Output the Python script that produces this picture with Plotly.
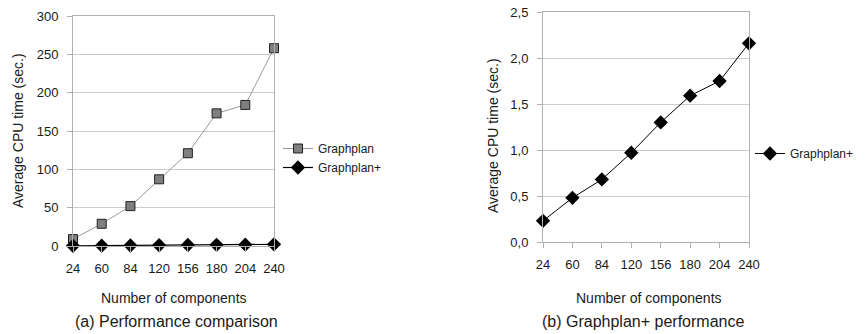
import plotly.graph_objects as go

components = ["24", "60", "84", "120", "156", "180", "204", "240"]
graphplan = [9, 29, 52, 87, 121, 173, 184, 258]
graphplan_plus = [0.23, 0.48, 0.68, 0.97, 1.30, 1.59, 1.75, 2.16]

W, H = 866, 334
FONT = "Liberation Sans, Arial, sans-serif"
GRID = "#cccccc"
AX = "#b0b0b0"
TXT = "#1a1a1a"


def px(x):
    return x / W


def py(y):
    return 1 - y / H


fig = go.Figure()

# Left chart
fig.add_trace(go.Scatter(
    x=components, y=graphplan, name="Graphplan", mode="lines+markers",
    line=dict(color="#9a9a9a", width=1),
    marker=dict(symbol="square", size=9, color="#7f7f7f", line=dict(color="#222222", width=1)),
    xaxis="x", yaxis="y", legend="legend", cliponaxis=False))
fig.add_trace(go.Scatter(
    x=components, y=graphplan_plus, name="Graphplan+", mode="lines+markers",
    line=dict(color="#000000", width=1.2),
    marker=dict(symbol="diamond", size=11, color="#000000"),
    xaxis="x", yaxis="y", legend="legend", cliponaxis=False))

# Right chart
fig.add_trace(go.Scatter(
    x=components, y=graphplan_plus, name="Graphplan+", mode="lines+markers",
    line=dict(color="#000000", width=1),
    marker=dict(symbol="diamond", size=11, color="#000000"),
    xaxis="x2", yaxis="y2", legend="legend2", cliponaxis=False))


def xax(domain, anchor):
    return dict(domain=domain, anchor=anchor, type="category", range=[0, 7],
                showgrid=False, showline=True, linecolor=AX, linewidth=1, mirror=True,
                ticks="outside", ticklen=5, tickcolor=AX, ticklabelstandoff=5,
                tickfont=dict(family=FONT, size=13, color=TXT), zeroline=False,
                automargin=False, ticklabeloverflow="allow")


def yax(domain, anchor, rng, dtick, fmt):
    return dict(domain=domain, anchor=anchor, range=rng, dtick=dtick, tickformat=fmt,
                showgrid=True, gridcolor=GRID, gridwidth=1, showline=True, linecolor=AX,
                linewidth=1, mirror=True, ticks="outside", ticklen=5, tickcolor=AX,
                ticklabelstandoff=6, tickfont=dict(family=FONT, size=13, color=TXT),
                zeroline=False, automargin=False, ticklabeloverflow="allow")


fig.update_layout(
    width=W, height=H, margin=dict(l=0, r=0, t=0, b=0, autoexpand=False),
    paper_bgcolor="white", plot_bgcolor="white", separators=",.",
    font=dict(family=FONT, size=13, color=TXT),
    xaxis=xax([px(73), px(274)], "y"),
    yaxis=yax([py(246), py(16)], "x", [0, 300], 50, "d"),
    xaxis2=xax([px(543), px(749)], "y2"),
    yaxis2=yax([py(242), py(12)], "x2", [0, 2.5], 0.5, ".1f"),
    legend=dict(x=px(278), y=py(134), xanchor="left", yanchor="top",
                bgcolor="rgba(0,0,0,0)", font=dict(family=FONT, size=12, color=TXT),
                itemwidth=30, tracegroupgap=0),
    legend2=dict(x=px(750), y=py(139), xanchor="left", yanchor="top",
                 bgcolor="rgba(0,0,0,0)", font=dict(family=FONT, size=12, color=TXT),
                 itemwidth=30),
    showlegend=True,
)

annos = [
    dict(text="Average CPU time (sec.)", x=18, y=131, textangle=-90, size=14),
    dict(text="Average CPU time (sec.)", x=493, y=136, textangle=-90, size=14),
    dict(text="Number of components", x=174, y=298, textangle=0, size=14),
    dict(text="Number of components", x=649, y=298, textangle=0, size=14),
    dict(text="(a) Performance comparison", x=176, y=321, textangle=0, size=16),
    dict(text="(b) Graphplan+ performance", x=643, y=321, textangle=0, size=16),
]
for a in annos:
    fig.add_annotation(text=a["text"], x=px(a["x"]), y=py(a["y"]), xref="paper", yref="paper",
                       xanchor="center", yanchor="middle", textangle=a["textangle"],
                       showarrow=False, font=dict(family=FONT, size=a["size"], color=TXT))

fig.write_html("out.html", config={"displayModeBar": False},
               post_script="document.body.style.margin='0px';document.body.style.overflow='hidden';")
